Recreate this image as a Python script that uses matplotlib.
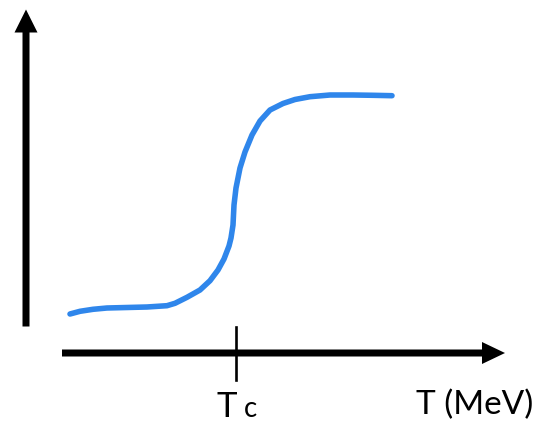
import numpy as np
import matplotlib.pyplot as plt

# hand-drawn order parameter curve, in canvas pixels (x right, y up)
temp = [70, 80, 93, 107, 127, 147, 167, 175, 187, 200, 210, 218, 224, 229,
        231, 233, 234, 236, 240, 245, 252, 260, 270, 283, 295, 310, 330, 353,
        373, 392]
order = [108, 110.7, 112.7, 114, 114.5, 115, 116.3, 118.7, 124.7, 132, 141.3,
         152, 163, 176, 184, 197, 217, 234, 254, 270, 287, 301, 312, 318.5,
         322.5, 325.3, 327, 327, 326.7, 326.3]
t_c = 236
x_label = "T (MeV)"

plt.rcParams['font.family'] = ['Lato', 'DejaVu Sans']

fig = plt.figure(figsize=(5.35, 4.22), dpi=100)
ax = fig.add_axes([0, 0, 1, 1])
ax.set_xlim(0, 535)
ax.set_ylim(0, 422)
ax.axis('off')

ax.plot(temp, order, color='#2f86eb', lw=4.0, solid_capstyle='round',
        solid_joinstyle='round')

# axes drawn as arrows
ax.arrow(26, 95.5, 0, 317, width=7, head_width=23, head_length=23,
         length_includes_head=True, color='black', lw=0)
ax.arrow(62, 69, 443, 0, width=7, head_width=22, head_length=23,
         length_includes_head=True, color='black', lw=0)

# critical temperature tick
ax.plot([t_c, t_c], [42, 95], color='black', lw=1.9)
ax.text(t_c + 1, 5, "T", fontsize=25, ha='right', va='baseline')
ax.text(t_c + 8, 5, "c", fontsize=20, ha='left', va='baseline')

ax.text(533, 8, x_label, fontsize=24, ha='right', va='baseline')

fig.savefig('out.png', dpi=100)
